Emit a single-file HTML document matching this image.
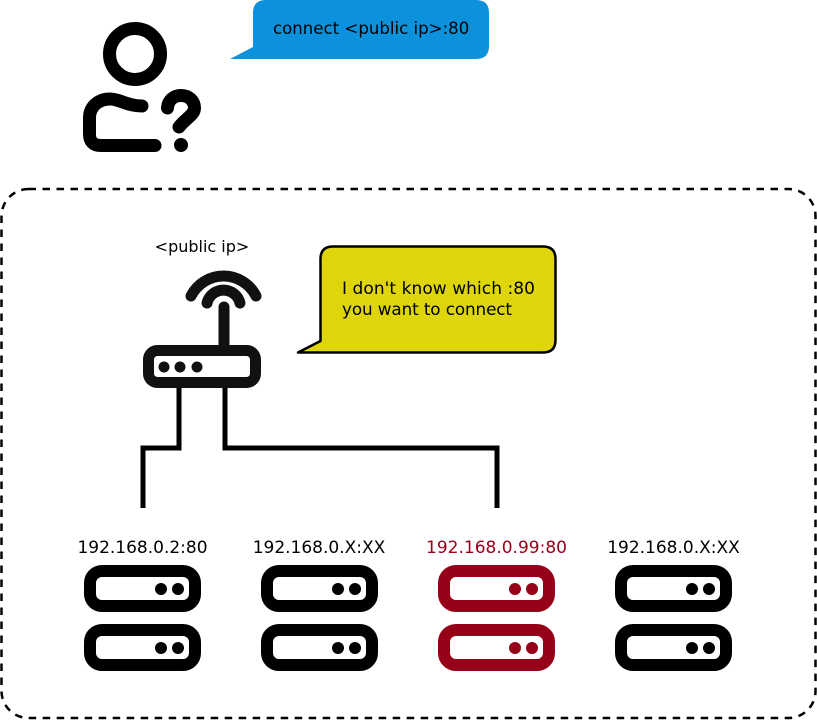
<!DOCTYPE html>
<html><head><meta charset="utf-8"><style>
html,body{margin:0;padding:0;background:#fff}
svg{display:block}
text{font-family:"DejaVu Sans",sans-serif;fill:#000}
</style></head><body>
<svg width="817" height="720" viewBox="0 0 817 720" xmlns="http://www.w3.org/2000/svg">
<rect x="1.5" y="189" width="814" height="529" rx="27" fill="none" stroke="#000" stroke-width="2.5" stroke-dasharray="7.5 6.5"/>
<!-- person -->
<g fill="none" stroke="#000" stroke-width="13" stroke-linecap="round" stroke-linejoin="round">
<circle cx="135" cy="54" r="25.5"/>
<path d="M155,145.500H101Q89.500,145.500 89.500,134V118C89.500,106 99,99 110,99C120,99 127,106 142,106"/>
<path d="M167.500,108C168,100 174,95.500 181,95.500C189,95.500 194.500,101 194.500,108C194.500,115 186,118 179,127"/>
</g>
<circle cx="181" cy="145" r="7"/>
<!-- blue bubble -->
<path d="M230,59L253,47V13Q253,0 266,0H476Q489,0 489,13V46Q489,59 476,59Z" fill="#0c91dd"/>
<text x="273" y="34" font-size="16.6">connect &lt;public ip&gt;:80</text>
<!-- yellow bubble -->
<path d="M298,352.500L320.500,341V259Q320.500,246.500 333,246.500H543Q555.500,246.500 555.500,259V340Q555.500,352.500 543,352.500Z" fill="#ded60a" stroke="#000" stroke-width="2.500" stroke-linejoin="round"/>
<text x="342" y="294" font-size="17" textLength="193" lengthAdjust="spacing">I don't know which :80</text>
<text x="342" y="315" font-size="16.8" textLength="170" lengthAdjust="spacing">you want to connect</text>
<!-- router -->
<text x="202" y="252" font-size="16" text-anchor="middle">&lt;public ip&gt;</text>
<g fill="none" stroke="#111" stroke-width="11" stroke-linecap="round">
<path d="M191,296A36.400,36.400 0 0 1 256,296"/>
<path d="M207,303A17,17 0 0 1 240,303"/>
<path d="M224,307V345"/>
<rect x="148.500" y="350.500" width="107" height="32" rx="9"/>
</g>
<circle cx="164" cy="367" r="5.500" fill="#111"/>
<circle cx="180" cy="367" r="5.500" fill="#111"/>
<circle cx="197" cy="367" r="5.500" fill="#111"/>
<!-- wires -->
<path d="M179,388V448H143V508M225,388V448H497V508" fill="none" stroke="#000" stroke-width="5"/>
<!-- servers -->
<g>
<rect x="90" y="571" width="105" height="35" rx="12" fill="none" stroke="#000" stroke-width="12"/>
<rect x="90" y="630" width="105" height="35" rx="12" fill="none" stroke="#000" stroke-width="12"/>
<circle cx="161" cy="589" r="6"/><circle cx="178" cy="589" r="6"/>
<circle cx="161" cy="648" r="6"/><circle cx="178" cy="648" r="6"/>
</g>
<g transform="translate(177,0)">
<rect x="90" y="571" width="105" height="35" rx="12" fill="none" stroke="#000" stroke-width="12"/>
<rect x="90" y="630" width="105" height="35" rx="12" fill="none" stroke="#000" stroke-width="12"/>
<circle cx="161" cy="589" r="6"/><circle cx="178" cy="589" r="6"/>
<circle cx="161" cy="648" r="6"/><circle cx="178" cy="648" r="6"/>
</g>
<g transform="translate(354,0)" fill="#960018">
<rect x="90" y="571" width="105" height="35" rx="12" fill="none" stroke="#960018" stroke-width="12"/>
<rect x="90" y="630" width="105" height="35" rx="12" fill="none" stroke="#960018" stroke-width="12"/>
<circle cx="161" cy="589" r="6"/><circle cx="178" cy="589" r="6"/>
<circle cx="161" cy="648" r="6"/><circle cx="178" cy="648" r="6"/>
</g>
<g transform="translate(531,0)">
<rect x="90" y="571" width="105" height="35" rx="12" fill="none" stroke="#000" stroke-width="12"/>
<rect x="90" y="630" width="105" height="35" rx="12" fill="none" stroke="#000" stroke-width="12"/>
<circle cx="161" cy="589" r="6"/><circle cx="178" cy="589" r="6"/>
<circle cx="161" cy="648" r="6"/><circle cx="178" cy="648" r="6"/>
</g>
<text x="142.500" y="553" font-size="17" text-anchor="middle">192.168.0.2:80</text>
<text x="319" y="553" font-size="17" text-anchor="middle">192.168.0.X:XX</text>
<text x="496.500" y="553" font-size="17" text-anchor="middle" style="fill:#960018">192.168.0.99:80</text>
<text x="673.500" y="553" font-size="17" text-anchor="middle">192.168.0.X:XX</text>
</svg>
</body></html>
